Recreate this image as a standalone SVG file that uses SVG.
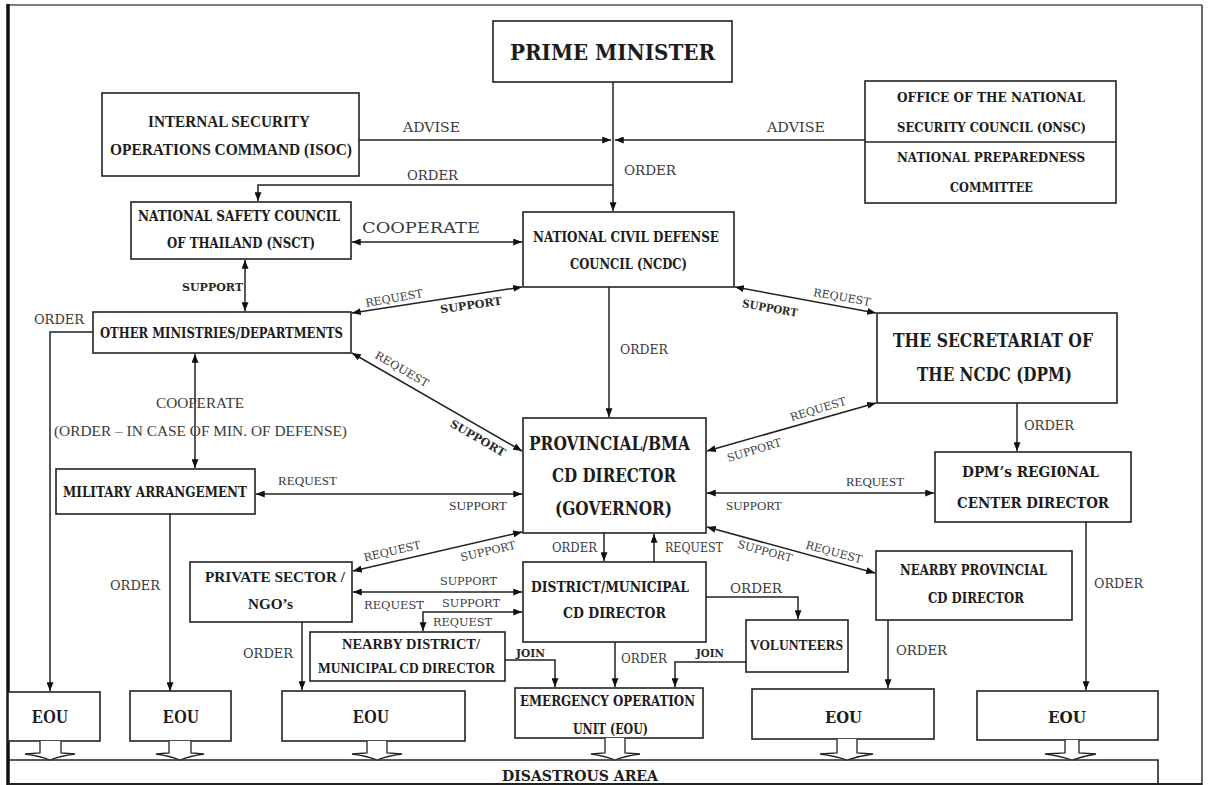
<svg xmlns="http://www.w3.org/2000/svg" width="1208" height="785" viewBox="0 0 1208 785">
<style>
.box{fill:#fff;stroke:#222;stroke-width:1.6}
.ln{fill:none;stroke:#222;stroke-width:1.5}
.b{font-family:"DejaVu Serif",serif;font-weight:bold;fill:#1c1c1c}
.t{font-family:"Liberation Serif",serif;font-weight:bold;fill:#1c1c1c}
.l{font-family:"DejaVu Serif",serif;fill:#3a3a3a;font-size:13px}
.lt{font-family:"Liberation Serif",serif;fill:#3a3a3a;font-size:15px}
.sb{font-family:"DejaVu Serif",serif;font-weight:bold;fill:#2a2a2a;font-size:11px}
.ha{fill:#fff;stroke:#222;stroke-width:1.3}
</style>
<defs>
<marker id="ah" viewBox="0 0 10 8" refX="10" refY="4" markerWidth="9" markerHeight="7" orient="auto-start-reverse" markerUnits="userSpaceOnUse">
<path d="M0,0 L10,4 L0,8 z" fill="#111"/>
</marker>
</defs>
<rect width="1208" height="785" fill="#fff"/>
<g id="frame">
<line x1="8" y1="5" x2="1202" y2="5" stroke="#555" stroke-width="1.5"/>
<line x1="8" y1="4" x2="8" y2="785" stroke="#111" stroke-width="3.5"/>
<line x1="1202" y1="5" x2="1202" y2="785" stroke="#333" stroke-width="1.5"/>
<line x1="8" y1="784" x2="1202" y2="784" stroke="#222" stroke-width="2"/>
</g>

<g id="connectors">
<path class="ln" d="M613,82 V211" marker-end="url(#ah)"/>
<path class="ln" d="M359,140 H611" marker-end="url(#ah)"/>
<path class="ln" d="M865,140 H615" marker-end="url(#ah)"/>
<path class="ln" d="M613,185 H258 V201" marker-end="url(#ah)"/>
<path class="ln" d="M352,242 H522" marker-start="url(#ah)" marker-end="url(#ah)"/>
<path class="ln" d="M245,260 V311" marker-start="url(#ah)" marker-end="url(#ah)"/>
<path class="ln" d="M352,313 L522,287" marker-start="url(#ah)" marker-end="url(#ah)"/>
<path class="ln" d="M93,332 H50 V691" marker-end="url(#ah)"/>
<path class="ln" d="M352,353 L522,451" marker-start="url(#ah)" marker-end="url(#ah)"/>
<path class="ln" d="M195,354 V468" marker-start="url(#ah)" marker-end="url(#ah)"/>
<path class="ln" d="M609,287 V417" marker-end="url(#ah)"/>
<path class="ln" d="M735,287 L876,313" marker-start="url(#ah)" marker-end="url(#ah)"/>
<path class="ln" d="M707,451 L876,403" marker-start="url(#ah)" marker-end="url(#ah)"/>
<path class="ln" d="M1017,403 V451" marker-end="url(#ah)"/>
<path class="ln" d="M256,494 H522" marker-start="url(#ah)" marker-end="url(#ah)"/>
<path class="ln" d="M707,493 H934" marker-start="url(#ah)" marker-end="url(#ah)"/>
<path class="ln" d="M522,532 L353,571" marker-start="url(#ah)" marker-end="url(#ah)"/>
<path class="ln" d="M707,527 L875,573" marker-start="url(#ah)" marker-end="url(#ah)"/>
<path class="ln" d="M170,514 V691" marker-end="url(#ah)"/>
<path class="ln" d="M1086,522 V690" marker-end="url(#ah)"/>
<path class="ln" d="M604,533 V561" marker-end="url(#ah)"/>
<path class="ln" d="M654,562 V534" marker-end="url(#ah)"/>
<path class="ln" d="M353,592 H522" marker-start="url(#ah)" marker-end="url(#ah)"/>
<path class="ln" d="M522,612 H423 V631" marker-start="url(#ah)" marker-end="url(#ah)"/>
<path class="ln" d="M302,622 V690" marker-end="url(#ah)"/>
<path class="ln" d="M706,597 H798 V619" marker-end="url(#ah)"/>
<path class="ln" d="M505,660 H555 V687" marker-end="url(#ah)"/>
<path class="ln" d="M615,642 V687" marker-end="url(#ah)"/>
<path class="ln" d="M746,662 H675 V687" marker-end="url(#ah)"/>
<path class="ln" d="M888,620 V688" marker-end="url(#ah)"/>
</g>

<g id="labels">
<text class="l" x="403" y="132" textLength="57" lengthAdjust="spacingAndGlyphs">ADVISE</text>
<text class="l" x="767" y="132" textLength="58" lengthAdjust="spacingAndGlyphs">ADVISE</text>
<text class="l" x="407" y="180" textLength="51" lengthAdjust="spacingAndGlyphs">ORDER</text>
<text class="l" x="624" y="175" textLength="52" lengthAdjust="spacingAndGlyphs">ORDER</text>
<text class="l" style="font-size:14px" x="362" y="233" textLength="118" lengthAdjust="spacingAndGlyphs">COOPERATE</text>
<text class="sb" x="182" y="291" textLength="61" lengthAdjust="spacingAndGlyphs">SUPPORT</text>
<text class="l" x="34" y="324" textLength="50" lengthAdjust="spacingAndGlyphs">ORDER</text>
<text class="l" style="font-size:11px" transform="translate(394,298) rotate(-10)" x="-29" y="4" textLength="58" lengthAdjust="spacingAndGlyphs">REQUEST</text>
<text class="sb" transform="translate(471,305) rotate(-8)" x="-31" y="4" textLength="62" lengthAdjust="spacingAndGlyphs">SUPPORT</text>
<text class="l" style="font-size:11px" transform="translate(402,369) rotate(30)" x="-30" y="4" textLength="60" lengthAdjust="spacingAndGlyphs">REQUEST</text>
<text class="sb" transform="translate(478,438) rotate(30)" x="-31" y="4" textLength="62" lengthAdjust="spacingAndGlyphs">SUPPORT</text>
<text class="l" x="620" y="354" textLength="48" lengthAdjust="spacingAndGlyphs">ORDER</text>
<text class="lt" x="156" y="408" textLength="88" lengthAdjust="spacingAndGlyphs">COOPERATE</text>
<text class="lt" x="54" y="436" textLength="293" lengthAdjust="spacingAndGlyphs">(ORDER – IN CASE OF MIN. OF DEFENSE)</text>
<text class="lt" style="font-size:13px" x="278" y="485" textLength="59" lengthAdjust="spacingAndGlyphs">REQUEST</text>
<text class="lt" style="font-size:13px" x="449" y="510" textLength="58" lengthAdjust="spacingAndGlyphs">SUPPORT</text>
<text class="l" style="font-size:11px" transform="translate(818,409) rotate(-17)" x="-29" y="4" textLength="58" lengthAdjust="spacingAndGlyphs">REQUEST</text>
<text class="l" style="font-size:11px" transform="translate(754,450) rotate(-17)" x="-28" y="4" textLength="56" lengthAdjust="spacingAndGlyphs">SUPPORT</text>
<text class="l" x="1024" y="430" textLength="50" lengthAdjust="spacingAndGlyphs">ORDER</text>
<text class="lt" style="font-size:13px" x="846" y="486" textLength="58" lengthAdjust="spacingAndGlyphs">REQUEST</text>
<text class="lt" style="font-size:13px" x="726" y="510" textLength="56" lengthAdjust="spacingAndGlyphs">SUPPORT</text>
<text class="l" style="font-size:11px" transform="translate(842,297) rotate(10)" x="-29" y="4" textLength="58" lengthAdjust="spacingAndGlyphs">REQUEST</text>
<text class="sb" transform="translate(770,308) rotate(10)" x="-28" y="4" textLength="56" lengthAdjust="spacingAndGlyphs">SUPPORT</text>
<text class="l" x="110" y="590" textLength="50" lengthAdjust="spacingAndGlyphs">ORDER</text>
<text class="l" x="243" y="658" textLength="50" lengthAdjust="spacingAndGlyphs">ORDER</text>
<text class="l" style="font-size:11px" transform="translate(392,551) rotate(-13)" x="-29" y="4" textLength="58" lengthAdjust="spacingAndGlyphs">REQUEST</text>
<text class="l" style="font-size:11px" transform="translate(488,551) rotate(-13)" x="-28" y="4" textLength="56" lengthAdjust="spacingAndGlyphs">SUPPORT</text>
<text class="l" style="font-size:12px" x="552" y="552" textLength="45" lengthAdjust="spacingAndGlyphs">ORDER</text>
<text class="l" style="font-size:12px" x="665" y="552" textLength="58" lengthAdjust="spacingAndGlyphs">REQUEST</text>
<text class="l" style="font-size:11px" transform="translate(765,551) rotate(15)" x="-28" y="4" textLength="56" lengthAdjust="spacingAndGlyphs">SUPPORT</text>
<text class="l" style="font-size:11px" transform="translate(834,552) rotate(15)" x="-29" y="4" textLength="58" lengthAdjust="spacingAndGlyphs">REQUEST</text>
<text class="l" style="font-size:11px" x="440" y="585" textLength="57" lengthAdjust="spacingAndGlyphs">SUPPORT</text>
<text class="l" style="font-size:11px" x="364" y="609" textLength="60" lengthAdjust="spacingAndGlyphs">REQUEST</text>
<text class="l" style="font-size:11px" x="442" y="607" textLength="58" lengthAdjust="spacingAndGlyphs">SUPPORT</text>
<text class="l" style="font-size:11px" x="433" y="626" textLength="59" lengthAdjust="spacingAndGlyphs">REQUEST</text>
<text class="l" x="730" y="593" textLength="52" lengthAdjust="spacingAndGlyphs">ORDER</text>
<text class="sb" x="516" y="657" textLength="29" lengthAdjust="spacingAndGlyphs">JOIN</text>
<text class="l" x="621" y="663" textLength="46" lengthAdjust="spacingAndGlyphs">ORDER</text>
<text class="sb" x="696" y="657" textLength="28" lengthAdjust="spacingAndGlyphs">JOIN</text>
<text class="l" x="896" y="655" textLength="51" lengthAdjust="spacingAndGlyphs">ORDER</text>
<text class="l" x="1094" y="588" textLength="49" lengthAdjust="spacingAndGlyphs">ORDER</text>
</g>

<g id="pm">
<rect class="box" x="493" y="21" width="239" height="61"/>
<text class="b" style="font-size:23px" x="510" y="60" textLength="205" lengthAdjust="spacingAndGlyphs">PRIME MINISTER</text>
</g>
<g id="isoc">
<rect class="box" x="102" y="93" width="257" height="83"/>
<text class="t" style="font-size:16px" x="148" y="127" textLength="162" lengthAdjust="spacingAndGlyphs">INTERNAL SECURITY</text>
<text class="t" style="font-size:16px" x="110" y="155" textLength="242" lengthAdjust="spacingAndGlyphs">OPERATIONS COMMAND (ISOC)</text>
</g>
<g id="onsc">
<rect class="box" x="865" y="81" width="251" height="122"/>
<line x1="865" y1="142" x2="1116" y2="142" stroke="#222" stroke-width="1.5"/>
<text class="b" style="font-size:13px" x="897" y="102" textLength="188" lengthAdjust="spacingAndGlyphs">OFFICE OF THE NATIONAL</text>
<text class="b" style="font-size:13px" x="897" y="132" textLength="189" lengthAdjust="spacingAndGlyphs">SECURITY COUNCIL (ONSC)</text>
<text class="b" style="font-size:13px" x="897" y="162" textLength="188" lengthAdjust="spacingAndGlyphs">NATIONAL PREPAREDNESS</text>
<text class="b" style="font-size:13px" x="950" y="192" textLength="83" lengthAdjust="spacingAndGlyphs">COMMITTEE</text>
</g>
<g id="nsct">
<rect class="box" x="131" y="202" width="220" height="57"/>
<text class="b" style="font-size:14px" x="138" y="221" textLength="202" lengthAdjust="spacingAndGlyphs">NATIONAL SAFETY COUNCIL</text>
<text class="b" style="font-size:14px" x="167" y="248" textLength="148" lengthAdjust="spacingAndGlyphs">OF THAILAND (NSCT)</text>
</g>
<g id="ncdc">
<rect class="box" x="523" y="212" width="211" height="75"/>
<text class="b" style="font-size:15px" x="533" y="242" textLength="186" lengthAdjust="spacingAndGlyphs">NATIONAL CIVIL DEFENSE</text>
<text class="b" style="font-size:15px" x="570" y="269" textLength="117" lengthAdjust="spacingAndGlyphs">COUNCIL (NCDC)</text>
</g>
<g id="other">
<rect class="box" x="93" y="312" width="258" height="41"/>
<text class="b" style="font-size:14px" x="100" y="338" textLength="243" lengthAdjust="spacingAndGlyphs">OTHER MINISTRIES/DEPARTMENTS</text>
</g>
<g id="military">
<rect class="box" x="56" y="469" width="199" height="45"/>
<text class="b" style="font-size:14px" x="63" y="497" textLength="184" lengthAdjust="spacingAndGlyphs">MILITARY ARRANGEMENT</text>
</g>
<g id="provincial">
<rect class="box" x="523" y="418" width="183" height="115"/>
<text class="b" style="font-size:18px" x="529" y="450" textLength="161" lengthAdjust="spacingAndGlyphs">PROVINCIAL/BMA</text>
<text class="b" style="font-size:18px" x="552" y="482" textLength="124" lengthAdjust="spacingAndGlyphs">CD DIRECTOR</text>
<text class="b" style="font-size:18px" x="555" y="515" textLength="117" lengthAdjust="spacingAndGlyphs">(GOVERNOR)</text>
</g>
<g id="secretariat">
<rect class="box" x="877" y="313" width="240" height="90"/>
<text class="b" style="font-size:18px" x="893" y="347" textLength="200" lengthAdjust="spacingAndGlyphs">THE SECRETARIAT OF</text>
<text class="b" style="font-size:18px" x="917" y="381" textLength="155" lengthAdjust="spacingAndGlyphs">THE NCDC (DPM)</text>
</g>
<g id="dpm">
<rect class="box" x="935" y="452" width="196" height="70"/>
<text class="b" style="font-size:15px" x="962" y="477" textLength="137" lengthAdjust="spacingAndGlyphs">DPM’s REGI0NAL</text>
<text class="b" style="font-size:15px" x="957" y="508" textLength="152" lengthAdjust="spacingAndGlyphs">CENTER DIRECTOR</text>
</g>
<g id="private">
<rect class="box" x="190" y="562" width="162" height="60"/>
<text class="t" style="font-size:15px" x="205" y="582" textLength="140" lengthAdjust="spacingAndGlyphs">PRIVATE SECTOR /</text>
<text class="t" style="font-size:15px" x="248" y="609" textLength="45" lengthAdjust="spacingAndGlyphs">NGO’s</text>
</g>
<g id="district">
<rect class="box" x="523" y="562" width="183" height="80"/>
<text class="b" style="font-size:14px" x="531" y="592" textLength="158" lengthAdjust="spacingAndGlyphs">DISTRICT/MUNICIPAL</text>
<text class="b" style="font-size:14px" x="563" y="618" textLength="103" lengthAdjust="spacingAndGlyphs">CD DIRECTOR</text>
</g>
<g id="nearby-district">
<rect class="box" x="310" y="632" width="195" height="49"/>
<text class="t" style="font-size:14px" x="342" y="649" textLength="138" lengthAdjust="spacingAndGlyphs">NEARBY DISTRICT/</text>
<text class="t" style="font-size:14px" x="318" y="673" textLength="177" lengthAdjust="spacingAndGlyphs">MUNICIPAL CD DIRECTOR</text>
</g>
<g id="volunteers">
<rect class="box" x="746" y="620" width="102" height="52"/>
<text class="t" style="font-size:14px" x="750" y="650" textLength="93" lengthAdjust="spacingAndGlyphs">VOLUNTEERS</text>
</g>
<g id="nearby-provincial">
<rect class="box" x="876" y="551" width="196" height="69"/>
<text class="b" style="font-size:14px" x="900" y="575" textLength="147" lengthAdjust="spacingAndGlyphs">NEARBY PROVINCIAL</text>
<text class="b" style="font-size:14px" x="928" y="603" textLength="96" lengthAdjust="spacingAndGlyphs">CD DIRECTOR</text>
</g>
<g id="eou-center">
<rect class="box" x="515" y="688" width="188" height="50"/>
<text class="b" style="font-size:14px" x="520" y="706" textLength="175" lengthAdjust="spacingAndGlyphs">EMERGENCY OPERATION</text>
<text class="b" style="font-size:14px" x="573" y="734" textLength="75" lengthAdjust="spacingAndGlyphs">UNIT (EOU)</text>
</g>
<g id="eou1">
<rect class="box" x="8" y="692" width="92" height="49"/>
<text class="t" style="font-size:18px" x="32" y="723" textLength="36" lengthAdjust="spacingAndGlyphs">EOU</text>
</g>
<g id="eou2">
<rect class="box" x="130" y="691" width="101" height="50"/>
<text class="t" style="font-size:18px" x="163" y="723" textLength="36" lengthAdjust="spacingAndGlyphs">EOU</text>
</g>
<g id="eou3">
<rect class="box" x="282" y="691" width="183" height="50"/>
<text class="t" style="font-size:18px" x="353" y="723" textLength="36" lengthAdjust="spacingAndGlyphs">EOU</text>
</g>
<g id="eou4">
<rect class="box" x="752" y="689" width="182" height="50"/>
<text class="b" style="font-size:16px" x="825" y="723" textLength="37" lengthAdjust="spacingAndGlyphs">EOU</text>
</g>
<g id="eou5">
<rect class="box" x="977" y="691" width="181" height="49"/>
<text class="b" style="font-size:16px" x="1048" y="723" textLength="38" lengthAdjust="spacingAndGlyphs">EOU</text>
</g>
<g id="disastrous-area">
<path d="M8,760 H1158 V785" fill="none" stroke="#222" stroke-width="1.6"/>
<text class="b" style="font-size:14px" x="502" y="781" textLength="156" lengthAdjust="spacingAndGlyphs">DISASTROUS  AREA</text>
</g>
<g id="hollow-arrows">
<path class="ha" d="M40,741 V753 L25,754 Q40,756 50,760 Q60,756 75,754 L61,753 V741"/>
<path class="ha" d="M169,741 V753 L156,754 Q170,756 180,760 Q190,756 204,754 L191,753 V741"/>
<path class="ha" d="M367,741 V753 L352,754 Q367,756 377,760 Q387,756 402,754 L387,753 V741"/>
<path class="ha" d="M605,738 V753 L591,754 Q605,756 615,760 Q625,756 640,754 L625,753 V738"/>
<path class="ha" d="M837,739 V753 L820,754 Q835,756 847,760 Q859,756 873,754 L857,753 V739"/>
<path class="ha" d="M1065,740 V753 L1045,754 Q1060,756 1072,760 Q1084,756 1096,754 L1079,753 V740"/>
</g>
</svg>
